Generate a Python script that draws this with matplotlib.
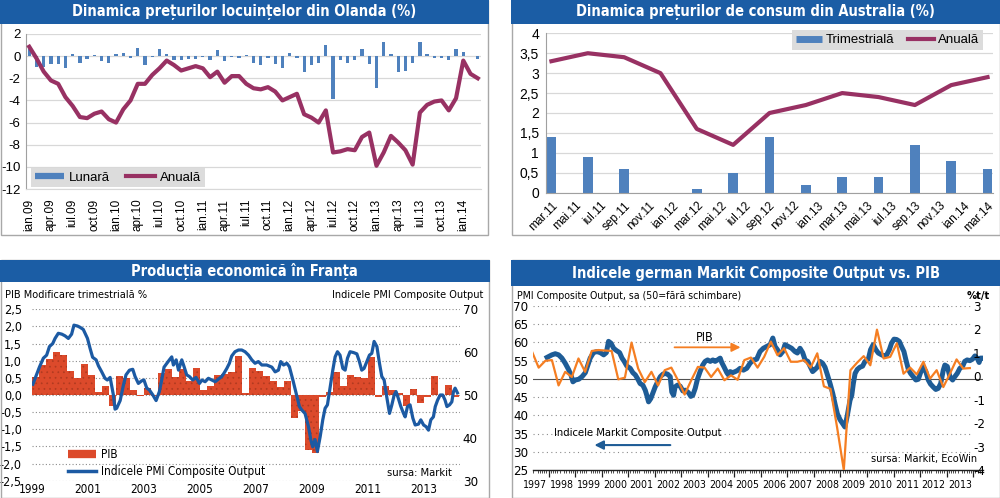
import matplotlib
matplotlib.use('Agg')
import matplotlib.pyplot as plt
from matplotlib import font_manager
from matplotlib.patches import Rectangle
from matplotlib.lines import Line2D
from matplotlib.ticker import MultipleLocator, NullFormatter
import numpy as np

plt.rcParams['axes.unicode_minus'] = False
plt.rcParams['hatch.linewidth'] = 0.5

# ---------------- data ----------------
# Panel 1: Netherlands house prices, monthly Jan 2009 - Mar 2014
nl_monthly = [0.6, -1.0, -1.0, -0.7, -0.7, -1.1, 0.15, -0.6, -0.3, 0.1, -0.45, -0.6,
              0.2, 0.3, -0.2, 0.75, -0.8, -0.05, 0.6, 0.15, -0.35, -0.35, -0.3, -0.3,
              -0.1, -0.35, 0.55, -0.45, -0.1, -0.2, 0.1, -0.6, -0.8, -0.2, -0.7, -1.1,
              0.3, -0.2, -1.4, -0.8, -0.6, 1.0, -3.9, -0.35, -0.6, -0.35, 0.6, -0.7,
              -2.9, 1.25, 0.2, -1.4, -1.3, -0.6, 1.25, 0.2, -0.15, -0.15, -0.35, 0.6,
              0.4, 0.05, -0.3]
nl_annual = [0.85, -0.2, -1.4, -2.2, -2.5, -3.7, -4.5, -5.5, -5.6, -5.2, -5.0, -5.7,
             -6.0, -4.8, -4.0, -2.5, -2.5, -1.7, -1.1, -0.4, -0.8, -1.3, -1.1, -0.9,
             -1.1, -1.9, -1.4, -2.4, -1.8, -1.8, -2.5, -2.9, -3.0, -2.8, -3.2, -4.0,
             -3.7, -3.4, -5.25, -5.55, -6.0, -4.9, -8.7, -8.6, -8.4, -8.5, -7.3, -6.9,
             -9.9, -8.7, -7.2, -7.8, -8.5, -9.8, -5.1, -4.4, -4.1, -4.0, -4.9, -3.8,
             -0.4, -1.6, -2.0]
nl_ticklabels = ['ian.09', 'apr.09', 'iul.09', 'oct.09', 'ian.10', 'apr.10', 'iul.10',
                 'oct.10', 'ian.11', 'apr.11', 'iul.11', 'oct.11', 'ian.12', 'apr.12',
                 'iul.12', 'oct.12', 'ian.13', 'apr.13', 'iul.13', 'oct.13', 'ian.14']
nl_yticks = [-12, -10, -8, -6, -4, -2, 0, 2]

# Panel 2: Australia CPI, quarterly Mar 2011 - Mar 2014 (monthly axis)
au_quarterly = [1.4, 0.9, 0.6, 0.0, 0.1, 0.5, 1.4, 0.2, 0.4, 0.4, 1.2, 0.8, 0.6]
au_annual = [3.3, 3.5, 3.4, 3.0, 1.6, 1.2, 2.0, 2.2, 2.5, 2.4, 2.2, 2.7, 2.9]
au_ticklabels = ['mar.11', 'mai.11', 'iul.11', 'sep.11', 'nov.11', 'ian.12', 'mar.12',
                 'mai.12', 'iul.12', 'sep.12', 'nov.12', 'ian.13', 'mar.13', 'mai.13',
                 'iul.13', 'sep.13', 'nov.13', 'ian.14', 'mar.14']
au_yticks = [0, 0.5, 1, 1.5, 2, 2.5, 3, 3.5, 4]

# Panel 3: France GDP q/q (quarters from 1999Q1) and PMI composite (months since Jan 1999)
fr_gdp = [0.52, 0.88, 1.04, 1.25, 1.17, 0.71, 0.5, 0.9, 0.58, 0.1, 0.26, -0.32,
          0.56, 0.5, 0.15, -0.02, 0.2, -0.03, 0.63, 0.75, 0.52, 0.75, 0.42, 0.8,
          0.15, 0.26, 0.58, 0.6, 0.66, 1.15, 0.05, 0.8, 0.71, 0.55, 0.42, 0.24,
          0.42, -0.68, -0.46, -1.6, -1.7, -0.05, 0.08, 0.68, 0.26, 0.58, 0.52, 0.5,
          1.12, -0.07, 0.26, 0.15, 0.05, -0.32, 0.17, -0.22, -0.05, 0.56, -0.05, 0.29,
          -0.05]
fr_pmi_month = [0.5, 3.3, 5, 6.4, 7.6, 9, 10, 11.4, 12.9, 14.3, 15.7, 17.1, 18.1, 19.6,
                20.7, 22.1, 23.9, 25, 26.1, 27.6, 28.6, 30, 31.4, 32.4, 33.6, 35, 35.7,
                36.4, 37.9, 39.3, 40.4, 41.9, 43.3, 44.3, 45.7, 47.1, 48.1, 49.3, 50.4,
                51.9, 53.3, 54.7, 55.7, 56.7, 57.9, 59, 60, 60.7, 61.9, 62.9, 64.3, 65.3,
                66.4, 67.6, 69, 70.4, 71.9, 72.9, 74.3, 75.7, 77.1, 78.6, 80, 81.4, 82.4,
                83.6, 84.7, 85.7, 87.1, 88.6, 90, 91.4, 92.9, 94.3, 95.7, 97.1, 98.6,
                100.7, 102.9, 104.3, 105.7, 106.7, 107.9, 109.3, 110.4, 111.9, 113.3,
                114.7, 115.7, 117.1, 118.6, 119.6, 120.4, 121.4, 122.4, 123.6, 124.7,
                125.7, 126.7, 127.9, 129, 130, 131, 132.1, 133.3, 134.3, 135.3, 136.4,
                137.9, 139.3, 140.4, 141.4, 142.4, 143.6, 144.7, 145.7, 146.7, 147.9,
                149, 150, 151, 152.1, 153.3, 154.3, 155.3, 156.1, 157.1, 158.1, 159.3,
                160, 161, 162.1, 163.3, 164.3, 165.7, 166.7, 167.9, 169, 170, 171,
                172.1, 172.9, 173.9, 175, 176.1, 177.1, 177.9, 179, 180, 180.7, 181.4,
                182.4]
fr_pmi = [52.5, 56.5, 58.6, 59.3, 61.3, 62, 63.2, 64.4, 64.2, 63.8, 63.2, 64.2, 66.3,
          66.1, 65.8, 65.3, 63.2, 60.9, 58.8, 58.2, 56.8, 55.4, 53.9, 53.5, 54.1, 50,
          46.7, 46.9, 48.7, 52.3, 54.7, 55.8, 56, 54.3, 52.7, 53.3, 53.5, 51.6, 51.2, 50,
          48.7, 50.8, 53.5, 56.5, 57.4, 58.2, 58.9, 57, 58.2, 55.8, 58.2, 56.6, 54.7,
          54.3, 53.5, 54.1, 52.7, 53.5, 53.1, 53.9, 53.5, 53.1, 53.7, 54.3, 55.1, 56.2,
          57.4, 59.1, 60.1, 60.5, 60.5, 60.1, 59.3, 58.2, 57.4, 57.8, 57.0, 57.0, 56.5,
          55.4, 55.8, 57.8, 57.0, 57.4, 56.6, 53.5, 50.4, 47.3, 46.5, 45.7, 42.6, 39.5,
          37.9, 39.6, 36.8, 40.3, 44.2, 46.9, 47.7, 51.9, 55.8, 58.9, 60.1, 59.3, 56.2,
          55.8, 58.6, 60.1, 59.9, 59.6, 57.8, 55.8, 56.2, 57.8, 59.3, 59.7, 62.5, 61.3,
          57.4, 54.3, 53.5, 49.6, 45.7, 47.7, 50, 50.8, 49.2, 47.4, 45.7, 44.9, 47.3,
          47.7, 44.6, 43, 43.2, 44.2, 43, 42.6, 41.8, 44.2, 44.9, 47.3, 48.8, 50, 50,
          48.8, 47.3, 47.7, 48.4, 50.8, 51.6, 50.5]
fr_years = ['1999', '2001', '2003', '2005', '2007', '2009', '2011', '2013']
fr_left_ticks = [-2.5, -2.0, -1.5, -1.0, -0.5, 0.0, 0.5, 1.0, 1.5, 2.0, 2.5]
fr_right_ticks = [30, 40, 50, 60, 70]

# Panel 4: Germany PMI composite (months since Jan 1997) and GDP q/q (from 1997Q2)
de_pmi_month = [11.3, 13.5, 15.0, 16.5, 18.0, 19.5, 21.0, 22.1, 23.0, 24.1, 25.6, 27.1,
                28.6, 29.6, 30.8, 32.3, 33.8, 35.4, 36.9, 38.1, 39.1, 40.2, 41.4, 42.6,
                44.1, 45.2, 46.2, 47.4, 48.9, 50.1, 51.2, 52.2, 53.4, 54.6, 55.7, 56.4,
                57.2, 58.2, 59.2, 60.2, 61.3, 62.5, 63.7, 64.7, 65.8, 67.0, 67.7, 68.5,
                69.2, 70.3, 71.5, 72.7, 73.8, 75.3, 76.3, 77.2, 78.3, 79.3, 80.5, 81.7,
                82.8, 83.9, 85.1, 86.3, 87.3, 88.4, 89.6, 90.3, 91.4, 92.6, 93.3, 94.1,
                95.2, 96.4, 97.4, 98.6, 100.1, 101.6, 103.1, 104.6, 106.1, 107.6, 109.1,
                110.6, 112.2, 113.4, 114.4, 115.5, 116.7, 117.9, 118.9, 120.4, 121.9,
                123.4, 124.5, 125.7, 126.9, 128.0, 129.2, 130.2, 131.4, 132.5, 133.5,
                134.7, 135.9, 137.0, 138.1, 139.3, 140.5, 141.5, 142.6, 143.8, 145.0,
                146.0, 147.1, 148.3, 149.1, 149.8, 150.6, 151.6, 152.8, 154.0, 155.1,
                156.6, 157.6, 158.8, 160.0, 161.1, 162.6, 163.7, 164.9, 166.1, 167.1,
                168.2, 169.4, 170.6, 171.6, 172.7, 173.6, 174.7, 175.7, 176.9, 178.1,
                179.2, 180.2, 181.4, 182.6, 183.7, 184.7, 185.9, 187.1, 188.2, 189.3,
                190.5, 191.2, 192.3, 193.5, 194.7, 195.7, 196.8, 198.0, 199.2, 200.2,
                201.3, 202.5, 203.7, 204.8, 205.8, 206.7, 207.3, 208.2]
de_pmi = [55.9, 56.6, 56.9, 56.6, 55.7, 54.3, 52.6, 51.1, 49.2, 49.7, 49.9, 50.6, 51.7,
          53.5, 55.7, 57.2, 57.5, 57.2, 56.6, 57.2, 60.3, 59.8, 58.4, 57.8, 57.2, 55.7,
          54.8, 53.5, 52.9, 51.7, 51.1, 50.1, 48.7, 48.3, 46.9, 45.5, 43.7, 44.6, 46.2,
          47.8, 49.2, 50.6, 51.3, 51.5, 51.3, 50.6, 46.4, 45.5, 47.8, 48.3, 48.0, 46.7,
          46.9, 46.2, 45.2, 45.5, 47.4, 49.9, 52.0, 53.8, 54.8, 55.2, 54.8, 55.2, 54.8,
          55.2, 55.7, 54.5, 53.2, 51.7, 51.1, 52.0, 51.7, 52.0, 52.3, 52.9, 52.4, 52.9,
          54.3, 55.2, 55.4, 57.5, 58.4, 58.9, 59.4, 61.2, 58.9, 58.0, 56.6, 57.5, 59.4,
          58.9, 58.4, 57.5, 57.1, 58.4, 57.2, 55.2, 54.8, 53.5, 52.0, 52.6, 53.2, 54.8,
          54.3, 53.2, 51.1, 48.7, 46.0, 43.2, 40.4, 38.8, 37.7, 36.8, 40.0, 44.1, 45.5,
          48.7, 51.5, 52.6, 53.2, 53.5, 54.8, 55.4, 58.0, 59.4, 58.0, 57.1, 56.6, 56.3,
          56.6, 58.0, 59.8, 60.9, 60.8, 60.3, 58.9, 57.5, 55.2, 52.6, 51.5, 50.6, 49.7,
          49.9, 51.7, 53.4, 52.0, 49.7, 48.6, 47.8, 47.1, 47.4, 48.7, 52.4, 53.8, 53.4,
          50.6, 49.7, 50.6, 51.5, 52.9, 53.4, 54.8, 55.2, 55.0, 55.4, 56.3, 55.7, 54.5,
          55.7, 55.7]
de_gdp = [1.05, 0.37, 0.66,
          0.69, -0.39, 0.19, -0.03,
          0.76, 0.19, 1.08, 1.12,
          1.10, 1.08, -0.13, -0.06,
          1.44, 0.33, -0.25, 0.19,
          -0.39, 0.26, 0.37, -0.17,
          -0.78, -0.17, 0.40, 0.37,
          -0.03, 0.33, -0.17, 0.04,
          -0.15, 0.69, 0.80, 0.37,
          0.83, 1.48, 0.90, 1.20,
          0.62, 0.62, 0.69, 0.37,
          0.98, -0.43, -0.54, -2.20,
          -4.00, 0.26, 0.58, 0.86,
          0.47, 1.99, 0.76, 0.83,
          1.41, 0.11, 0.37, 0.08,
          0.62, -0.10, 0.26, -0.46,
          0.11, 0.72, 0.33, 0.35]
de_years = ['1997', '1998', '1999', '2000', '2001', '2002', '2003', '2004', '2005',
            '2006', '2007', '2008', '2009', '2010', '2011', '2012', '2013']
de_left_ticks = [25, 30, 35, 40, 45, 50, 55, 60, 65, 70]
de_right_ticks = [-4, -3, -2, -1, 0, 1, 2, 3]

# ---------------- fonts / colours ----------------
_names = {f.name for f in font_manager.fontManager.ttflist}
if 'Liberation Sans Narrow' in _names:
    NARROW, NSTRETCH = 'Liberation Sans Narrow', 'normal'
else:
    NARROW, NSTRETCH = 'DejaVu Sans', 'condensed'
SANS = 'Liberation Sans' if 'Liberation Sans' in _names else 'DejaVu Sans'
NF = [NARROW, 'DejaVu Sans']
SF = [SANS, 'DejaVu Sans']

BLUE = '#4F81BD'
MAROON = '#983163'
TITLE_BLUE = '#1B5DA5'
RED = '#DC4A2B'
FR_BLUE = '#1C5AA3'
DE_BLUE = '#1E5C96'
ORANGE = '#F57E22'
FRAME = '#A8A8A8'

W, H = 1000.0, 498.0


def box(x0, y0, x1, y1):
    return [x0 / W, 1 - y1 / H, (x1 - x0) / W, (y1 - y0) / H]


def nf(size, **kw):
    d = dict(family=NF, fontstretch=NSTRETCH, fontsize=size)
    d.update(kw)
    return d


fig = plt.figure(figsize=(10, 4.98), dpi=100)
fig.patch.set_facecolor('white')

# panel frames and title bars
frames = [(0.5, 0.5, 488, 235), (512, 0.5, 999.5, 235), (0.5, 260, 489, 497.5),
          (512, 260, 999.5, 497.5)]
bars = [(0, 0, 488.5, 24), (511.5, 0, 1000, 24), (0, 260, 489.5, 282),
        (511.5, 260, 1000, 286)]
titles = ['Dinamica prețurilor locuințelor din Olanda (%)',
          'Dinamica prețurilor de consum din Australia (%)',
          'Producția economică în Franța',
          'Indicele german Markit Composite Output vs. PIB']
for (x0, y0, x1, y1) in frames:
    b = box(x0, y0, x1, y1)
    fig.patches.append(Rectangle((b[0], b[1]), b[2], b[3], transform=fig.transFigure,
                                 fill=False, edgecolor=FRAME, lw=1.0, zorder=0))
for (x0, y0, x1, y1), t in zip(bars, titles):
    b = box(x0, y0, x1, y1)
    fig.patches.append(Rectangle((b[0], b[1]), b[2], b[3], transform=fig.transFigure,
                                 facecolor=TITLE_BLUE, edgecolor='none', zorder=1))
    fig.text((x0 + x1) / 2 / W, 1 - (y0 + y1) / 2 / H, t, color='white',
             fontweight='bold', ha='center', va='center', zorder=2, **nf(10.5))

# ---------------- panel 1 ----------------
ax1 = fig.add_axes(box(26, 34, 481, 189))
x1 = np.arange(len(nl_monthly))
ax1.bar(x1, nl_monthly, width=0.45, color=BLUE, zorder=2)
ax1.plot(x1, nl_annual, color=MAROON, lw=3.0, zorder=3, solid_joinstyle='round')
ax1.set_xlim(-0.45, len(nl_monthly) - 0.55)
ax1.set_ylim(-12, 2)
ax1.set_yticks(nl_yticks, [str(v) for v in nl_yticks], family=SF, fontsize=9.5)
ax1.set_xticks(np.arange(len(nl_ticklabels)) * 3, nl_ticklabels, rotation=90,
               family=SF, fontsize=8.5)
ax1.tick_params(axis='both', length=0)
ax1.tick_params(axis='x', pad=7)
ax1.tick_params(axis='y', pad=4)
ax1.grid(axis='y', color='#D8D8D8', lw=0.9)
ax1.set_axisbelow(True)
for s in ['top', 'right']:
    ax1.spines[s].set_visible(False)
ax1.spines['left'].set_color('#A0A0A0')
ax1.spines['bottom'].set_color('#D8D8D8')
h1 = [Line2D([], [], color=BLUE, lw=4.5, solid_capstyle='butt'),
      Line2D([], [], color=MAROON, lw=3)]
ax1.legend(h1, ['Lunară', 'Anuală'], loc='lower left', bbox_to_anchor=(0.012, 0.012),
           ncol=2, frameon=True, facecolor='#DCDCDC', edgecolor='none', fancybox=False,
           framealpha=1, handlelength=2.2, columnspacing=1.2, handletextpad=0.4,
           borderaxespad=0, borderpad=0.25, prop={'family': SF, 'size': 9.5})

# ---------------- panel 2 ----------------
ax2 = fig.add_axes(box(546, 33.3, 993, 192.7))
x2 = np.arange(len(au_quarterly)) * 3
ax2.bar(x2, au_quarterly, width=0.78, color=BLUE, zorder=2)
ax2.plot(x2, au_annual, color=MAROON, lw=3.0, zorder=3, solid_joinstyle='round')
ax2.set_xlim(-0.45, x2[-1] + 0.45)
ax2.set_ylim(0, 4)
ax2.set_yticks(au_yticks, [f'{v:g}'.replace('.', ',') for v in au_yticks], family=SF,
               fontsize=10)
ax2.set_xticks(np.arange(len(au_ticklabels)) * 2, au_ticklabels, rotation=45, ha='right',
               rotation_mode='anchor', family=SF, fontsize=8.5)
ax2.tick_params(axis='both', length=0)
ax2.tick_params(axis='x', pad=5)
ax2.tick_params(axis='y', pad=5)
ax2.grid(axis='y', color='#D8D8D8', lw=0.9)
ax2.set_axisbelow(True)
for s in ['top', 'right']:
    ax2.spines[s].set_visible(False)
ax2.spines['left'].set_color('#A0A0A0')
ax2.spines['bottom'].set_color('#A0A0A0')
h2 = [Line2D([], [], color=BLUE, lw=5, solid_capstyle='butt'),
      Line2D([], [], color=MAROON, lw=3)]
ax2.legend(h2, ['Trimestrială', 'Anuală'], loc='upper right', bbox_to_anchor=(0.978, 1.02),
           ncol=2, frameon=True, facecolor='#DCDCDC', edgecolor='none', fancybox=False,
           framealpha=1, handlelength=2.0, columnspacing=1.0, handletextpad=0.3,
           borderaxespad=0, borderpad=0.3, prop={'family': SF, 'size': 9.5})

# ---------------- panel 3 ----------------
ax3 = fig.add_axes(box(31.7, 309.3, 460, 480.7))
xq = np.arange(len(fr_gdp)) * 3 + 1.5
ax3.bar(xq, fr_gdp, width=3.0, color=RED, edgecolor='#B03A20', lw=0, hatch='...',
        zorder=2)
ax3.set_xlim(0, 183.5)
ax3.set_ylim(-2.5, 2.5)
ax3.set_yticks(fr_left_ticks, [f'{v:.1f}'.replace('.', ',') for v in fr_left_ticks],
               **nf(9))
ax3.set_xticks([(int(y) - 1999) * 12 for y in fr_years], fr_years, **nf(8.5))
ax3.tick_params(axis='both', length=0)
ax3.tick_params(axis='y', pad=7)
ax3.tick_params(axis='x', pad=2)
ax3.grid(axis='y', color='#8C8C8C', lw=0.8, ls=(0, (1, 2)))
ax3.set_axisbelow(True)
for s in ax3.spines.values():
    s.set_visible(False)
ax3r = ax3.twinx()
ax3r.plot(fr_pmi_month, fr_pmi, color=FR_BLUE, lw=2.3, zorder=3)
ax3r.set_ylim(30, 70)
ax3r.set_yticks(fr_right_ticks, [str(v) for v in fr_right_ticks], **nf(9.5))
ax3r.tick_params(axis='y', length=0, pad=2)
for s in ax3r.spines.values():
    s.set_visible(False)
h3 = [Line2D([], [], color=RED, lw=6, solid_capstyle='butt'),
      Line2D([], [], color=FR_BLUE, lw=2.5)]
ax3r.legend(h3, ['PIB', 'Indicele PMI Composite Output'], loc='upper left',
            bbox_to_anchor=(0.085, 0.19), frameon=False, handlelength=2.4, handletextpad=0.4,
            labelspacing=0.3, borderaxespad=0, borderpad=0,
            prop={'family': NF, 'stretch': NSTRETCH, 'size': 8.5})
fig.text(5 / W, 1 - 295 / H, 'PIB Modificare trimestrială %', ha='left', va='center',
         **nf(7.8))
fig.text(483 / W, 1 - 295 / H, 'Indicele PMI Composite Output', ha='right', va='center',
         **nf(7.8))
ax3r.text(0.98, 0.045, 'sursa: Markit', transform=ax3r.transAxes, ha='right', va='center',
          **nf(8))

# ---------------- panel 4 ----------------
ax4 = fig.add_axes(box(532.7, 306, 982.7, 470))
de_t = 1997 + np.array(de_pmi_month) / 12.0
ax4.plot(de_t, de_pmi, color=DE_BLUE, lw=3.6, zorder=3, solid_joinstyle='round')
ax4.set_xlim(1997.4, 2014.36)
ax4.set_ylim(25, 70)
ax4.set_yticks(de_left_ticks, [str(v) for v in de_left_ticks], **nf(9.5))
ax4.tick_params(axis='y', length=0, pad=3)
for v in de_left_ticks[1:]:
    if v == 50:
        ax4.axhline(v, color='#505050', lw=0.8, zorder=1)
    else:
        ax4.axhline(v, xmax=0.978, color='#8C8C8C', lw=0.8, ls=(0, (1, 3)), zorder=1)
mid_years = [int(y) + 0.5 for y in de_years]
ax4.set_xticks(mid_years, de_years, **nf(7.6))
ax4.xaxis.set_minor_locator(MultipleLocator(1 / 12))
ax4.tick_params(axis='x', which='major', length=0, pad=7)
ax4.tick_params(axis='x', which='minor', length=2.5, width=0.6, color='#303030',
                direction='out')
for s in ['top', 'right', 'left']:
    ax4.spines[s].set_visible(False)
ax4.spines['bottom'].set_color('#202020')
ax4.spines['bottom'].set_linewidth(1.0)
sec = ax4.secondary_xaxis('bottom')
sec.set_xticks([int(y) + 1 for y in de_years])
sec.xaxis.set_major_formatter(NullFormatter())
sec.tick_params(axis='x', length=5, width=0.9, color='#202020', direction='out')
sec.spines['bottom'].set_visible(False)

ax4r = ax4.twinx()
de_gdp_t = 1997.375 + 0.25 * np.arange(len(de_gdp))
ax4r.plot(de_gdp_t, de_gdp, color=ORANGE, lw=1.6, zorder=4)
ax4r.set_ylim(-4, 3)
ax4r.set_yticks(de_right_ticks, [str(v) for v in de_right_ticks], **nf(9.5))
ax4r.tick_params(axis='y', length=0, pad=-7)
for s in ax4r.spines.values():
    s.set_visible(False)

ax4r.text(0.383, 0.805, 'PIB', transform=ax4r.transAxes, ha='center', va='center', **nf(9))
ax4r.annotate('', xy=(0.468, 0.748), xytext=(0.309, 0.748), xycoords='axes fraction',
              textcoords='axes fraction',
              arrowprops=dict(arrowstyle='-|>', color=ORANGE, lw=1.3, mutation_scale=13))
ax4r.text(0.234, 0.227, 'Indicele Markit Composite Output', transform=ax4r.transAxes,
          ha='center', va='center', **nf(8))
ax4r.annotate('', xy=(0.131, 0.152), xytext=(0.312, 0.152), xycoords='axes fraction',
              textcoords='axes fraction',
              arrowprops=dict(arrowstyle='-|>', color=DE_BLUE, lw=1.5, mutation_scale=13))
ax4r.text(0.988, 0.065, 'sursa: Markit, EcoWin', transform=ax4r.transAxes, ha='right',
          va='center', **nf(7.8))
fig.text(517 / W, 1 - 296 / H, 'PMI Composite Output, sa (50=fără schimbare)', ha='left',
         va='center', **nf(7.6))
fig.text(990 / W, 1 - 296 / H, '%t/t', fontweight='bold', ha='right', va='center', **nf(8))

fig.savefig('out.png', dpi=100, facecolor='white')
